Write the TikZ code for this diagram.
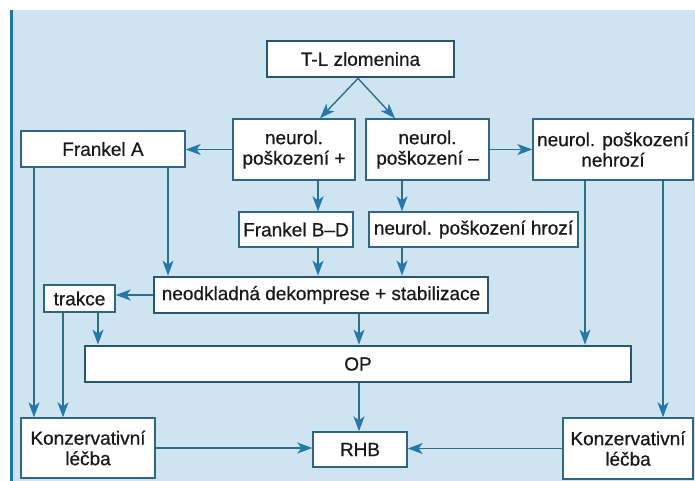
\documentclass[tikz,border=0pt]{standalone}
\usepackage{fontspec}
\setmainfont[FakeBold=0.6]{Liberation Sans}
\usetikzlibrary{arrows.meta}
\definecolor{bgc}{HTML}{CFE4F1}
\definecolor{barc}{HTML}{1F72AE}
\definecolor{linec}{HTML}{2F6E8A}
\definecolor{tipc}{HTML}{2479AA}
\definecolor{boxc}{HTML}{2F6680}
\tikzset{
  box/.style={draw=boxc, fill=white, line width=1.4pt, inner sep=0pt, align=center,
    font=\fontsize{19}{20.5}\selectfont, text=black!90},
  thickbox/.style={box, line width=2.8pt, draw=boxc!85!black},
  arr/.style={draw=linec, line width=1.4pt, arrows={-Stealth[length=15pt, width=11pt, inset=4pt, color=tipc]}},
}
\begin{document}
\begin{tikzpicture}[x=1pt, y=-1pt]
\useasboundingbox (0,0) rectangle (695,481);
\fill[white] (0,0) rectangle (695,481);
\fill[bgc] (13,10) rectangle (695,481);
\fill[barc] (10,10) rectangle (13,481);

\node[thickbox, minimum width=187, minimum height=36] (TL) at (360.5,59) {T-L zlomenina};
\node[box, minimum width=122, minimum height=61] (NP) at (294,149.5) {neurol.\\poškození +};
\node[box, minimum width=123, minimum height=61] (NM) at (427.5,149.5) {neurol.\\poškození –};
\node[box, minimum width=160, minimum height=61] (NH) at (613,149.5) {neurol. poškození\\nehrozí};
\node[box, minimum width=164, minimum height=36] (FA) at (103,149) {Frankel A};
\node[box, minimum width=114, minimum height=35] (FBD) at (296,229.5) {Frankel B–D};
\node[box, minimum width=209, minimum height=35] (HR) at (473.5,229.5) {neurol. poškození hrozí};
\node[thickbox, minimum width=334, minimum height=36] (DK) at (321,295) {neodkladná dekomprese + stabilizace};
\node[box, minimum width=71, minimum height=27] (TR) at (79.5,298.5) {trakce};
\node[thickbox, minimum width=546, minimum height=36] (OP) at (358,364) {OP};
\node[box, minimum width=134, minimum height=60] (KL) at (88,448) {Konzervativní\\léčba};
\node[box, minimum width=94, minimum height=35] (RHB) at (360,449.5) {RHB};
\node[box, minimum width=130, minimum height=61] (KR) at (628,448.5) {Konzervativní\\léčba};

\draw[arr] ([xshift=-2.5]TL.south) -- ([xshift=26]NP.north);
\draw[arr] ([xshift=-2.5]TL.south) -- ([xshift=-32.5]NM.north);
\draw[arr] (NP.west) -- (NP.west -| FA.east);
\draw[arr] (NM.east) -- (NM.east -| NH.west);
\draw[arr] ([xshift=24]NP.south) -- ([xshift=24]NP.south |- FBD.north);
\draw[arr] ([xshift=-25.5]NM.south) -- ([xshift=-25.5]NM.south |- HR.north);
\draw[arr] ([xshift=22]FBD.south) -- ([xshift=22]FBD.south |- DK.north);
\draw[arr] ([xshift=-71.5]HR.south) -- ([xshift=-71.5]HR.south |- DK.north);
\draw[arr] ([xshift=65]FA.south) -- ([xshift=65]FA.south |- DK.north);
\draw[arr] ([xshift=-69]FA.south) -- ([xshift=-69]FA.south |- KL.north);
\draw[arr] (DK.west) -- (DK.west -| TR.east);
\draw[arr] ([xshift=-16.5]TR.south) -- ([xshift=-16.5]TR.south |- KL.north);
\draw[arr] ([xshift=18.5]TR.south) -- ([xshift=18.5]TR.south |- OP.north);
\draw[arr] ([xshift=38]DK.south) -- ([xshift=38]DK.south |- OP.north);
\draw[arr] ([xshift=-28]NH.south) -- ([xshift=-28]NH.south |- OP.north);
\draw[arr] ([xshift=50]NH.south) -- ([xshift=50]NH.south |- KR.north);
\draw[arr] ([xshift=1]OP.south) -- ([xshift=1]OP.south |- RHB.north);
\draw[arr] (KL.east) -- (KL.east -| RHB.west);
\draw[arr] (KR.west) -- (KR.west -| RHB.east);
\end{tikzpicture}
\end{document}
